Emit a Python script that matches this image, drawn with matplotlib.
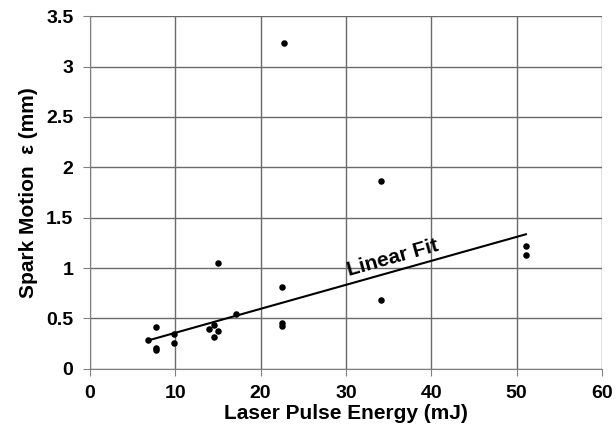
import matplotlib
matplotlib.use('Agg')
import matplotlib.pyplot as plt

plt.rcParams['font.family'] = ['Liberation Sans', 'DejaVu Sans']

# measured points (laser energy in mJ, spark motion in mm)
energy = [6.8, 7.7, 7.7, 7.7, 9.9, 9.9, 13.9, 14.5, 14.5, 15.0, 15.0, 17.1,
          22.5, 22.5, 22.5, 22.7, 34.1, 34.1, 51.1, 51.1]
motion = [0.28, 0.41, 0.21, 0.19, 0.34, 0.26, 0.39, 0.43, 0.31, 0.37, 1.05, 0.54,
          0.81, 0.45, 0.42, 3.23, 1.86, 0.68, 1.22, 1.13]

# linear fit end points
fit_x = [6.8, 51.1]
fit_y = [0.28, 1.335]

xticks = [0, 10, 20, 30, 40, 50, 60]
yticks = [0, 0.5, 1, 1.5, 2, 2.5, 3, 3.5]

fig = plt.figure(figsize=(6.16, 4.41), dpi=100)
ax = fig.add_axes([0.146, 0.164, 0.831, 0.799])

ax.scatter(energy, motion, s=22, color='black', zorder=3, linewidths=0)
ax.plot(fit_x, fit_y, color='black', lw=1.5, zorder=2)

ax.set_xlim(0, 60)
ax.set_ylim(0, 3.5)
ax.set_xticks(xticks)
ax.set_xticklabels([str(t) for t in xticks])
ax.set_yticks(yticks)
ax.set_yticklabels(['0', '0.5', '1', '1.5', '2', '2.5', '3', '3.5'])

ax.grid(True, color='#6a6a6a', lw=1.0)
ax.set_axisbelow(True)
for s in ['top', 'right']:
    ax.spines[s].set_visible(False)
for s in ['left', 'bottom']:
    ax.spines[s].set_color('#808080')
ax.tick_params(direction='out', length=5, color='#808080', labelsize=14, pad=7)
for lab in ax.get_xticklabels() + ax.get_yticklabels():
    lab.set_fontweight('bold')

ax.set_xlabel('Laser Pulse Energy (mJ)', fontsize=15, fontweight='bold', labelpad=1)
ax.set_ylabel('Spark Motion  \u03b5 (mm)', fontsize=15, fontweight='bold', labelpad=6)

ax.text(35.7, 1.05, 'Linear Fit', fontsize=15, fontweight='bold',
        rotation=15.7, rotation_mode='anchor', ha='center', va='baseline')

fig.savefig('out.png', dpi=100)
